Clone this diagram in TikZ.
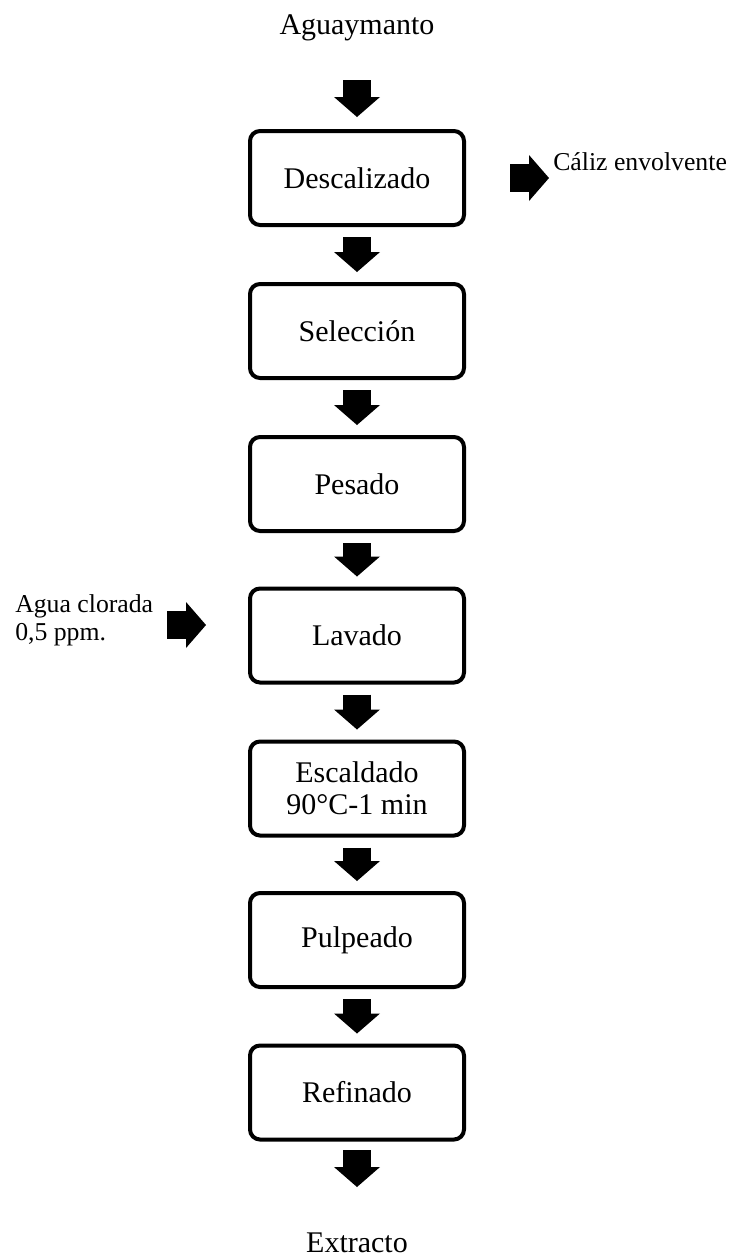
\documentclass[tikz,border=0pt]{standalone}
\usepackage{fontspec}
\setmainfont{Liberation Serif}
\usetikzlibrary{arrows.meta,positioning}
\begin{document}
\begin{tikzpicture}[x=0.75pt,y=-0.75pt,
	procbox/.style={draw,line width=3pt,rounded corners=7.5pt,minimum width=160.5pt,minimum height=70.5pt,align=center,inner sep=0pt,font=\fontsize{22.5}{24}\selectfont},
	endtext/.style={inner sep=0pt,font=\fontsize{22.5}{24}\selectfont},
	sidetext/.style={inner sep=0pt,align=left,font=\fontsize{19.3}{21}\selectfont},
	flow/.style={line width=21pt,-{Triangle[length=15pt,width=34.5pt,line width=0pt]},shorten <=7.5pt,shorten >=7.5pt}]
	\useasboundingbox (0,0) rectangle (734,1258);
	\node[endtext]	(agua)	at (357,28)	{Aguaymanto};
	\node[procbox]	(desc)	at (357,178)	{Descalizado};
	\node[procbox]	(sel)	at (357,331)	{Selección};
	\node[procbox]	(pes)	at (357,484)	{Pesado};
	\node[procbox]	(lav)	at (357,635.5)	{Lavado};
	\node[procbox]	(esc)	at (357,788.5)	{Escaldado\\90°C-1 min};
	\node[procbox]	(pul)	at (357,940)	{Pulpeado};
	\node[procbox]	(ref)	at (357,1092.5)	{Refinado};
	\node[endtext]	(extr)	at (357,1243)	{Extracto};
	\node[sidetext,anchor=base west]	(caliz)	at (553,170)	{Cáliz envolvente};
	\node[sidetext,anchor=north west]	(cloro)	at (15,594)	{Agua clorada\\0,5 ppm.};
	\coordinate (calend) at (549,178);
	\coordinate (clostart) at (167,625);
	\draw[flow,shorten <=39pt,shorten >=9pt] (agua.center) -- (desc.north);
	\foreach \a/\b in {desc/sel,sel/pes,pes/lav,lav/esc,esc/pul,pul/ref}
		\draw[flow] (\a.south) -- (\b.north);
	\draw[flow,shorten <=6.4pt,shorten >=42pt] (ref.south) -- (extr.center);
	\draw[flow,shorten <=33pt,shorten >=0pt] (desc.east) -- (calend);
	\draw[flow,shorten <=0pt,shorten >=31.5pt] (clostart) -- (lav.west |- clostart);
\end{tikzpicture}
\end{document}
